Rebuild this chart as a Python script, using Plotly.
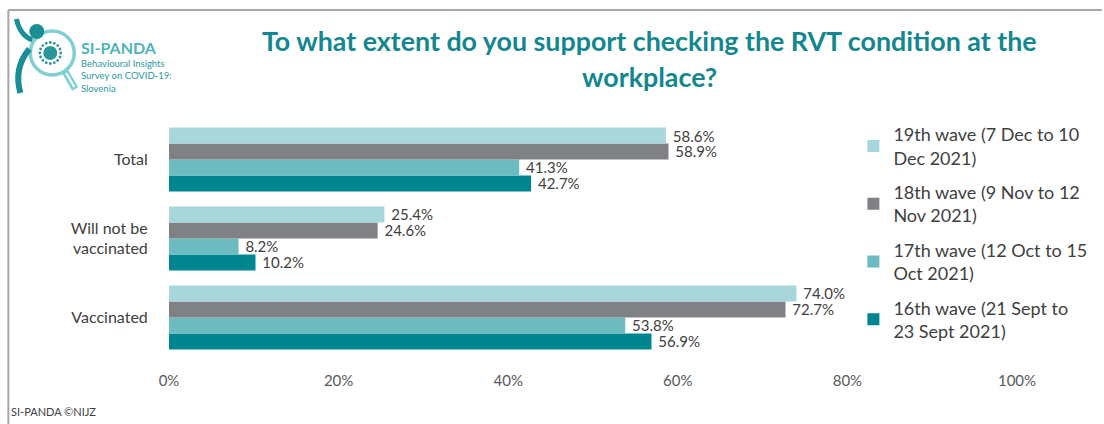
import math
import plotly.graph_objects as go

# Survey answers (share of respondents who support checking the RVT condition)
categories = ["Vaccinated", "Will not be<br>vaccinated", "Total"]
wave_names = [
    "16th wave (21 Sept to<br>23 Sept 2021)",
    "17th wave (12 Oct to 15<br>Oct 2021)",
    "18th wave (9 Nov to 12<br>Nov 2021)",
    "19th wave (7 Dec to 10<br>Dec 2021)",
]
wave16 = [56.9, 10.2, 42.7]
wave17 = [53.8, 8.2, 41.3]
wave18 = [72.7, 24.6, 58.9]
wave19 = [74.0, 25.4, 58.6]
x_ticks = [0, 20, 40, 60, 80, 100]

series = [wave16, wave17, wave18, wave19]
colors = ["#00868f", "#6bbbc0", "#808184", "#a7d7db"]

W, H = 1104, 424
ML, MR, MT, MB = 169, 85, 120, 54
PW, PH = W - ML - MR, H - MT - MB


def PX(x):
    return (x - ML) / PW


def PY(y):
    return (H - MB - y) / PH


FONT = "Lato, 'Liberation Sans', sans-serif"
TEAL = "#1a8e97"

fig = go.Figure()
for i, (name, vals, col) in enumerate(zip(wave_names, series, colors)):
    fig.add_trace(go.Bar(
        y=categories, x=vals, name=name, orientation="h",
        marker=dict(color=col, line=dict(width=0)),
        text=[f"{v:.1f}%" for v in vals], textposition="outside",
        texttemplate="\u00a0%{text}",
        textfont=dict(size=15, color="#404040", family=FONT),
        constraintext="none", cliponaxis=False,
        legendgroup=name, legendrank=len(series) - i,
    ))

shapes = []
# frame lines along the top and left edges
shapes.append(dict(type="line", xref="paper", yref="paper",
                   x0=PX(8), x1=PX(1104), y0=PY(10), y1=PY(10),
                   line=dict(color="#a6a6a6", width=2)))
shapes.append(dict(type="line", xref="paper", yref="paper",
                   x0=PX(8), x1=PX(8), y0=PY(10), y1=PY(424),
                   line=dict(color="#a6a6a6", width=2)))

# logo: magnifier handle
shapes.append(dict(type="line", xref="paper", yref="paper",
                   x0=PX(64), y0=PY(70), x1=PX(75), y1=PY(89),
                   line=dict(color="#7fcfd3", width=7)))
shapes.append(dict(type="line", xref="paper", yref="paper",
                   x0=PX(66), y0=PY(73), x1=PX(74), y1=PY(87),
                   line=dict(color="white", width=2)))
# logo: magnifier ring
shapes.append(dict(type="circle", xref="paper", yref="paper",
                   x0=PX(30), x1=PX(74), y0=PY(75), y1=PY(31),
                   line=dict(color="#7fcfd3", width=3.5), fillcolor="white"))


def ppath(pts):
    cmd = []
    for c, pairs in pts:
        cmd.append(c + " " + " ".join(f"{PX(a):.5f},{PY(b):.5f}" for a, b in pairs))
    return " ".join(cmd)


# logo: figure (arm, head, body)
shapes.append(dict(type="path", xref="paper", yref="paper",
                   path=ppath([("M", [(16, 19)]), ("Q", [(20, 36), (32, 40)])]),
                   line=dict(color=TEAL, width=5)))
shapes.append(dict(type="circle", xref="paper", yref="paper",
                   x0=PX(29), x1=PX(44), y0=PY(39), y1=PY(24),
                   line=dict(width=0), fillcolor=TEAL))
shapes.append(dict(type="path", xref="paper", yref="paper",
                   path=ppath([("M", [(29, 49)]), ("Q", [(13, 68), (20, 93)])]),
                   line=dict(color=TEAL, width=6)))
# logo: virus particle
cx, cy = 50, 53
shapes.append(dict(type="circle", xref="paper", yref="paper",
                   x0=PX(cx - 7), x1=PX(cx + 7), y0=PY(cy + 7), y1=PY(cy - 7),
                   line=dict(width=0), fillcolor="#2b959c"))
for k in range(16):
    a = 2 * math.pi * k / 16
    dx, dy = 10.5 * math.cos(a), 10.5 * math.sin(a)
    shapes.append(dict(type="circle", xref="paper", yref="paper",
                       x0=PX(cx + dx - 1.4), x1=PX(cx + dx + 1.4),
                       y0=PY(cy + dy + 1.4), y1=PY(cy + dy - 1.4),
                       line=dict(width=0), fillcolor="#2b959c"))

annotations = [
    dict(text="<b>To what extent do you support checking the RVT condition at the</b>",
         x=PX(651), y=PY(41), xref="paper", yref="paper", showarrow=False,
         xanchor="center", yanchor="middle",
         font=dict(size=26.8, color="#12878f", family=FONT)),
    dict(text="<b>workplace?</b>",
         x=PX(651), y=PY(77), xref="paper", yref="paper", showarrow=False,
         xanchor="center", yanchor="middle",
         font=dict(size=26.8, color="#12878f", family=FONT)),
    dict(text="<b>SI-PANDA</b>", x=PX(79), y=PY(48), xref="paper", yref="paper",
         showarrow=False, xanchor="left", yanchor="middle",
         font=dict(size=16, color="#4fb5ba", family=FONT)),
    dict(text="Behavioural Insights<br>Survey on COVID-19:<br>Slovenia",
         x=PX(79), y=PY(56), xref="paper", yref="paper", align="left",
         showarrow=False, xanchor="left", yanchor="top",
         font=dict(size=9.5, color="#2a9aa0", family=FONT)),
    dict(text="SI-PANDA ©NIJZ", x=PX(9), y=PY(411), xref="paper", yref="paper",
         showarrow=False, xanchor="left", yanchor="middle",
         font=dict(size=11, color="#404040", family=FONT)),
]

fig.update_layout(
    width=W, height=H,
    margin=dict(l=ML, r=MR, t=MT, b=MB),
    paper_bgcolor="white", plot_bgcolor="white",
    barmode="group", bargap=0.19, bargroupgap=0,
    font=dict(family=FONT, color="#404040"),
    showlegend=True,
    legend=dict(
        x=PX(855), y=PY(116), xanchor="left", yanchor="top",
        traceorder="grouped", tracegroupgap=8, maxheight=400,
        font=dict(size=18, color="#404040", family=FONT),
        bgcolor="rgba(0,0,0,0)",
    ),
    xaxis=dict(
        range=[0, 100], tickvals=x_ticks, ticktext=[f"{t}%" for t in x_ticks],
        showgrid=False, zeroline=False, showline=False,
        tickfont=dict(size=15, color="#595959", family=FONT),
        ticks="",
    ),
    yaxis=dict(
        range=[-0.665, 2.5], showgrid=False, zeroline=False, showline=False,
        tickfont=dict(size=16, color="#404040", family=FONT),
        ticks="outside", ticklen=17, tickcolor="rgba(0,0,0,0)",
    ),
    shapes=shapes, annotations=annotations,
)

fig.write_html("out.html")
